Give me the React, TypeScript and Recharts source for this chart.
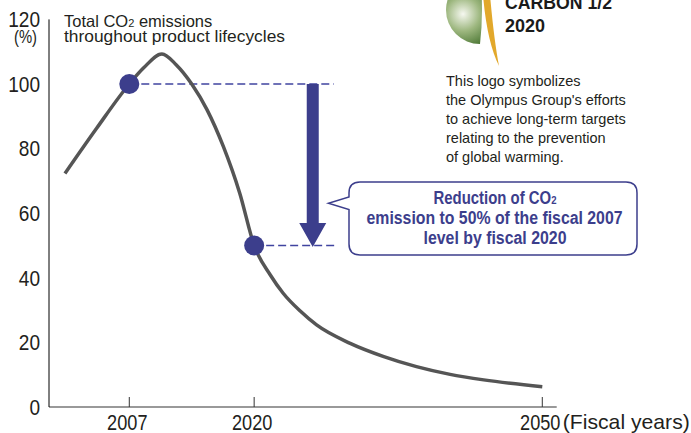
import React from 'react'
import {
  ComposedChart,
  Line,
  Scatter,
  XAxis,
  YAxis,
  ReferenceLine,
} from 'recharts'

const NAVY = '#3c3e8c'
const GUIDE = '#4044a0'
const CURVE = '#555555'
const INK = '#231f20'
const SANS = "'Liberation Sans', Arial, sans-serif"
// the source uses a condensed face; squeeze Liberation Sans to that width
const Y_DIGIT_W = 10.6
const X_DIGIT_W = 10.1

// Total CO2 emissions (% of fiscal 2007)
const curveYears = [
  2000.3, 2003.6, 2007, 2008.5, 2010.4, 2011.9, 2013.5, 2015.1, 2016.8,
  2018.5, 2020, 2021.7, 2023, 2024.8, 2026.5, 2030, 2033.5, 2036.9, 2040.4,
  2043.9, 2050,
]
const curveValues = [
  72.3, 86.3, 100, 105, 109.3, 105.9, 100, 92, 80.6, 66.2, 50, 40.8, 35.3,
  29.7, 25.4, 19.7, 15.6, 12.5, 10.1, 8.4, 6.3,
]

const milestoneYears = [2007, 2020]
const milestoneValues = [100, 50]

// dashed guides run from each milestone out past the arrow
const guideEndYears = [2028.3, 2028.5]
const arrowYear = 2026.1
const arrowTipValue = 49.5

const yTicks = [0, 20, 40, 60, 80, 100, 120]
const xTicks = [2007, 2020, 2050]

const titleLines = ['Total CO', ' emissions', 'throughout product lifecycles']
const noteLines = [
  'This logo symbolizes',
  "the Olympus Group's efforts",
  'to achieve long-term targets',
  'relating to the prevention',
  'of global warming.',
]
const calloutLines = [
  'emission to 50% of the fiscal 2007',
  'level by fiscal 2020',
]

const curveData = curveYears.map((year, i) => ({
  year,
  value: curveValues[i],
}))
const milestoneData = milestoneYears.map((year, i) => ({
  year,
  value: milestoneValues[i],
}))

const ValueTick = ({ x, y, payload }: any) => (
  <text
    x={x}
    y={y}
    dy="0.36em"
    textAnchor="end"
    fill={INK}
    fontSize={21.5}
    fontFamily={SANS}
    textLength={String(payload.value).length * Y_DIGIT_W}
    lengthAdjust="spacingAndGlyphs"
  >
    {payload.value}
  </text>
)

const YearTick = ({ x, y, payload }: any) => (
  <g>
    <line x1={x} x2={x} y1={y - 10} y2={y} stroke="#333" strokeWidth={1} />
    <text
      x={x - 2}
      y={y + 22.5}
      textAnchor="middle"
      fill={INK}
      fontSize={22}
      fontFamily={SANS}
      textLength={4 * X_DIGIT_W}
      lengthAdjust="spacingAndGlyphs"
    >
      {payload.value}
    </text>
    {payload.value === 2050 && (
      <text
        x={x + 20.5}
        y={y + 22}
        textAnchor="start"
        fill={INK}
        fontSize={21}
        fontFamily={SANS}
        textLength={127}
        lengthAdjust="spacingAndGlyphs"
      >
        (Fiscal years)
      </text>
    )}
  </g>
)

const ArrowShape = ({ x1, y1, y2 }: any) => {
  const headTop = y2 - 24
  return (
    <path
      d={`M${x1 - 6},${y1} H${x1 + 6} V${headTop} H${x1 + 13.5} L${x1},${y2} L${x1 - 13.5},${headTop} H${x1 - 6} Z`}
      fill={NAVY}
    />
  )
}

const Overlay: React.FC = () => (
  <svg
    width={691}
    height={433}
    style={{ position: 'absolute', left: 0, top: 0, pointerEvents: 'none' }}
  >
    <defs>
      <radialGradient
        id="globe"
        gradientUnits="userSpaceOnUse"
        cx={463}
        cy={14}
        r={38}
      >
        <stop offset="0" stopColor="#f6f8f0" />
        <stop offset="0.45" stopColor="#9db77f" />
        <stop offset="1" stopColor="#3b6a25" />
      </radialGradient>
    </defs>

    {/* axis unit */}
    <text
      x={25.5}
      y={43}
      textAnchor="middle"
      fill={INK}
      fontSize={19}
      fontFamily={SANS}
      textLength={23}
      lengthAdjust="spacingAndGlyphs"
    >
      (%)
    </text>

    {/* title */}
    <text x={64} y={26.5} fill={INK} fontSize={16.5} fontFamily={SANS}>
      {titleLines[0]}
      <tspan fontSize={11}>2</tspan>
      {titleLines[1]}
    </text>
    <text
      x={64}
      y={41.7}
      fill={INK}
      fontSize={16.5}
      fontFamily={SANS}
      textLength={221}
      lengthAdjust="spacingAndGlyphs"
    >
      {titleLines[2]}
    </text>

    {/* logo */}
    <path
      d="M480,-24 A34,34 0 0 0 480,44 Q484,10 480,-24 Z"
      fill="url(#globe)"
    />
    <path d="M483,-5 Q487,42 499,66 Q494,40 490,-5 Z" fill="#e2a82b" />
    <text
      x={505}
      y={9}
      fill="#1a1a1a"
      fontSize={18}
      fontWeight={700}
      fontFamily={SANS}
      textLength={107}
      lengthAdjust="spacingAndGlyphs"
    >
      CARBON 1/2
    </text>
    <text
      x={505}
      y={31.5}
      fill="#1a1a1a"
      fontSize={18}
      fontWeight={700}
      fontFamily={SANS}
    >
      2020
    </text>

    {noteLines.map((line, i) => (
      <text
        key={line}
        x={446}
        y={86 + i * 18.9}
        fill={INK}
        fontSize={14.5}
        fontFamily={SANS}
      >
        {line}
      </text>
    ))}

    {/* callout */}
    <path
      d="M360,182 H626 Q637,182 637,193 V244 Q637,255 626,255 H360 Q349,255 349,244 V209.5 L328.5,203.3 L349,197 V193 Q349,182 360,182 Z"
      fill="#fff"
      stroke={NAVY}
      strokeWidth={1.5}
    />
    <g
      fill={NAVY}
      fontFamily={SANS}
      fontWeight={700}
      fontSize={18}
      textAnchor="middle"
    >
      <text
        x={495}
        y={203.5}
        textLength={123}
        lengthAdjust="spacingAndGlyphs"
      >
        Reduction of CO<tspan fontSize={11.5}>2</tspan>
      </text>
      <text
        x={494.5}
        y={224}
        textLength={256}
        lengthAdjust="spacingAndGlyphs"
      >
        {calloutLines[0]}
      </text>
      <text
        x={495}
        y={244}
        textLength={143}
        lengthAdjust="spacingAndGlyphs"
      >
        {calloutLines[1]}
      </text>
    </g>
  </svg>
)

const App: React.FC = () => {
  return (
    <div
      style={{
        position: 'absolute',
        left: 0,
        top: 0,
        width: 691,
        height: 433,
        background: '#fff',
      }}
    >
      <ComposedChart
        width={691}
        height={433}
        margin={{ top: 19.4, right: 134.3, bottom: 0, left: 0 }}
      >
        <XAxis
          dataKey="year"
          type="number"
          domain={[1998.64, 2051.5]}
          ticks={xTicks}
          allowDataOverflow
          height={26}
          axisLine={{ stroke: '#777', strokeWidth: 1.5 }}
          tickLine={false}
          tickSize={0}
          tickMargin={0}
          tick={<YearTick />}
        />
        <YAxis
          type="number"
          domain={[0, 120]}
          ticks={yTicks}
          width={49}
          axisLine={{ stroke: '#000', strokeWidth: 1 }}
          tickLine={false}
          tickSize={0}
          tickMargin={9}
          tick={<ValueTick />}
        />
        {milestoneData.map((m, i) => (
          <ReferenceLine
            key={m.year}
            segment={[
              { x: m.year, y: m.value },
              { x: guideEndYears[i], y: m.value },
            ]}
            stroke={GUIDE}
            strokeWidth={1.3}
            strokeDasharray="8 4"
          />
        ))}
        <ReferenceLine
          segment={[
            { x: arrowYear, y: milestoneValues[0] },
            { x: arrowYear, y: arrowTipValue },
          ]}
          shape={<ArrowShape />}
        />
        <Line
          data={curveData}
          dataKey="value"
          type="monotone"
          stroke={CURVE}
          strokeWidth={3.5}
          dot={false}
          activeDot={false}
          isAnimationActive={false}
        />
        <Scatter
          data={milestoneData}
          dataKey="value"
          fill={NAVY}
          shape={(p: any) => (
            <circle cx={p.cx} cy={p.cy} r={10} fill={NAVY} />
          )}
          isAnimationActive={false}
        />
      </ComposedChart>
      <Overlay />
    </div>
  )
}

export default App
